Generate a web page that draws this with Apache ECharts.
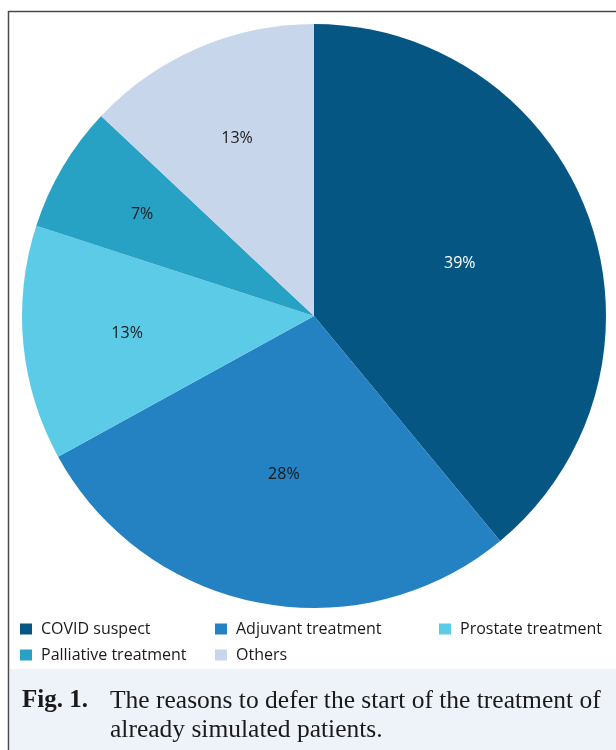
<!DOCTYPE html>
<html>
<head>
<meta charset="utf-8">
<script src="https://cdn.jsdelivr.net/npm/echarts@6/dist/echarts.min.js"></script>
<style>
html,body{margin:0;padding:0;background:#fff;}
#chart{width:616px;height:750px;}
</style>
</head>
<body>
<div id="chart"></div>
<script>
var categories = ['COVID suspect', 'Adjuvant treatment', 'Prostate treatment', 'Palliative treatment', 'Others'];
var values = [39, 28, 13, 7, 13];
var colors = ['#065684', '#2481c2', '#5bcbe8', '#27a2c5', '#c8d6ec'];
var labelColors = ['#ffffff', '#1a1a1a', '#1a1a1a', '#1a1a1a', '#1a1a1a'];
var captionLabel = 'Fig. 1.';
var captionLines = ['The reasons to defer the start of the treatment of', 'already simulated patients.'];

// style: radial placement of each percentage label (fraction of radius)
var labelRadiusFrac = [0.52, 0.54, 0.63, 0.67, 0.65];
var CX = 314, CY = 316, R = 292;

var chart = echarts.init(document.getElementById('chart'), null, {renderer: 'canvas'});

var legendCommon = {
  orient: 'vertical',
  icon: 'rect',
  padding: 0,
  itemWidth: 12,
  itemHeight: 11,
  itemGap: 10,
  selectedMode: false,
  textStyle: {fontFamily: 'Open Sans', fontSize: 16, color: '#1a1a1a', lineHeight: 14, padding: [0, 0, 0, 4]}
};

var option = {
  animation: false,
  backgroundColor: '#ffffff',
  color: colors,
  legend: [
    Object.assign({left: 20, top: 621, data: [categories[0], categories[3]]}, legendCommon),
    Object.assign({left: 215, top: 621, data: [categories[1], categories[4]]}, legendCommon),
    Object.assign({left: 439, top: 621, data: [categories[2]]}, legendCommon)
  ],
  graphic: [
    {type: 'rect', shape: {x: 10, y: 669, width: 610, height: 90}, style: {fill: '#eef2f9'}, silent: true, z: 0},
    {type: 'rect', shape: {x: 8.5, y: 11.5, width: 640, height: 800}, style: {fill: 'none', stroke: '#4a4a4a', lineWidth: 1.5}, silent: true, z: 0},
    {type: 'text', left: 22, top: 688, style: {text: captionLabel, font: 'bold 25px "Liberation Serif"', fill: '#1a1a1a'}},
    {type: 'text', left: 110, top: 688, style: {text: captionLines[0], font: '25.5px "Liberation Serif"', fill: '#1a1a1a'}},
    {type: 'text', left: 110, top: 717, style: {text: captionLines[1], font: '25.5px "Liberation Serif"', fill: '#1a1a1a'}}
  ],
  series: [{
    type: 'pie',
    center: [CX, CY],
    radius: [0, R],
    startAngle: 90,
    clockwise: true,
    avoidLabelOverlap: false,
    itemStyle: {borderWidth: 0},
    label: {
      show: true,
      position: 'inside',
      formatter: '{c}%',
      fontFamily: 'Open Sans',
      fontSize: 16
    },
    labelLine: {show: false},
    emphasis: {disabled: true},
    labelLayout: function (p) {
      var r = p.labelRect;
      var cx = r.x + r.width / 2, cy = r.y + r.height / 2;
      var k = labelRadiusFrac[p.dataIndex] / 0.5;
      return {dx: (cx - CX) * (k - 1), dy: (cy - CY) * (k - 1)};
    },
    data: categories.map(function (c, i) {
      return {name: c, value: values[i], label: {color: labelColors[i]}};
    })
  }]
};
chart.setOption(option);
</script>
</body>
</html>
